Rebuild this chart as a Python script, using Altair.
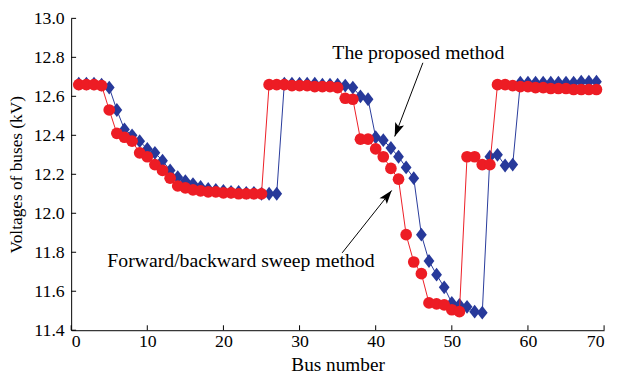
import math
import altair as alt
import pandas as pd

# ---------------- data ----------------
bus = list(range(1, 70))

fbs_kv = [12.66, 12.66, 12.66, 12.655, 12.53, 12.41, 12.39, 12.37, 12.31, 12.29,
          12.25, 12.22, 12.18, 12.14, 12.13, 12.12, 12.115, 12.11, 12.11, 12.105,
          12.105, 12.10, 12.10, 12.10, 12.10, 12.66, 12.66, 12.66, 12.655, 12.655,
          12.655, 12.65, 12.65, 12.65, 12.645, 12.59, 12.585, 12.38, 12.38, 12.33,
          12.29, 12.23, 12.175, 11.89, 11.75, 11.69, 11.54, 11.535, 11.53, 11.505,
          11.495, 12.29, 12.29, 12.25, 12.25, 12.66, 12.66, 12.655, 12.65, 12.65,
          12.645, 12.645, 12.64, 12.64, 12.64, 12.635, 12.635, 12.635, 12.635]

proposed_kv = [12.665, 12.665, 12.665, 12.66, 12.645, 12.53, 12.43, 12.40, 12.37, 12.33,
               12.31, 12.27, 12.22, 12.185, 12.165, 12.15, 12.135, 12.125, 12.12, 12.115,
               12.11, 12.11, 12.105, 12.105, 12.10, 12.10, 12.10, 12.665, 12.665, 12.665,
               12.665, 12.665, 12.66, 12.66, 12.66, 12.655, 12.645, 12.60, 12.585, 12.39,
               12.375, 12.335, 12.29, 12.235, 12.18, 11.89, 11.755, 11.685, 11.62, 11.54,
               11.53, 11.52, 11.495, 11.49, 12.29, 12.30, 12.245, 12.25, 12.67, 12.67,
               12.67, 12.67, 12.67, 12.67, 12.67, 12.67, 12.675, 12.675, 12.675]

x_ticks = [0, 10, 20, 30, 40, 50, 60, 70]
y_ticks = [11.4, 11.6, 11.8, 12.0, 12.2, 12.4, 12.6, 12.8, 13.0]

label_text = ["The proposed method", "Forward/backward sweep method"]
label_bus = [45.6, 22.3]
label_kv = [12.824, 11.756]

arrow_from_bus = [46.2, 35.6]
arrow_from_kv = [12.772, 11.797]
arrow_to_bus = [42.5, 42.1]
arrow_to_kv = [12.394, 12.117]

# ---------------- layout ----------------
W, H = 540, 316
X_DOM = [0, 70]
Y_DOM = [11.4, 13.0]
FONT = "Liberation Serif"
RED = "#ED1C24"
BLUE = "#27399A"

xs = alt.Scale(domain=X_DOM, nice=False, zero=False)
ys = alt.Scale(domain=Y_DOM, nice=False, zero=False)
x_axis = alt.Axis(values=x_ticks, title="Bus number", format="d")
y_axis = alt.Axis(values=y_ticks, title="Voltages of buses (kV)", format=".1f")


def X(field="bus"):
    return alt.X(f"{field}:Q", scale=xs, axis=x_axis)


def Y(field="kv"):
    return alt.Y(f"{field}:Q", scale=ys, axis=y_axis)


df_fbs = pd.DataFrame({"bus": bus, "kv": fbs_kv})
df_prop = pd.DataFrame({"bus": bus, "kv": proposed_kv})

# arrow direction (clockwise from "up"), derived from the pixel scale
angles = []
for i in range(2):
    dx = (arrow_to_bus[i] - arrow_from_bus[i]) * W / (X_DOM[1] - X_DOM[0])
    dy = -(arrow_to_kv[i] - arrow_from_kv[i]) * H / (Y_DOM[1] - Y_DOM[0])
    angles.append(math.degrees(math.atan2(dx, -dy)) % 360)

df_arrow = pd.DataFrame({
    "bus": arrow_from_bus, "kv": arrow_from_kv,
    "bus2": arrow_to_bus, "kv2": arrow_to_kv,
})
df_head = pd.DataFrame({"bus": arrow_to_bus, "kv": arrow_to_kv, "ang": angles})
df_label = pd.DataFrame({"bus": label_bus, "kv": label_kv, "txt": label_text})
df_xt = pd.DataFrame({"bus": x_ticks})
df_yt = pd.DataFrame({"kv": y_ticks})

prop_line = alt.Chart(df_prop).mark_line(color=BLUE, strokeWidth=1).encode(x=X(), y=Y())
prop_pts = alt.Chart(df_prop).mark_point(
    shape="M0,-1L0.78,0L0,1L-0.78,0Z", filled=True, color=BLUE, opacity=1,
    size=196, strokeWidth=0,
).encode(x=X(), y=Y())

fbs_line = alt.Chart(df_fbs).mark_line(color=RED, strokeWidth=1).encode(x=X(), y=Y())
fbs_pts = alt.Chart(df_fbs).mark_point(
    shape="circle", filled=True, color=RED, opacity=1, size=140, strokeWidth=0,
).encode(x=X(), y=Y())

xticks = alt.Chart(df_xt).mark_rule(color="black", strokeWidth=1).encode(
    x=X(), y=alt.value(H), y2=alt.value(H - 5)
)
yticks = alt.Chart(df_yt).mark_rule(color="black", strokeWidth=1).encode(
    y=Y(), x=alt.value(0), x2=alt.value(5)
)

arrow_lines = alt.Chart(df_arrow).mark_rule(color="black", strokeWidth=1).encode(
    x=X(), y=Y(), x2="bus2:Q", y2="kv2:Q",
)
arrow_heads = alt.Chart(df_head).mark_point(
    shape="M0,0L0.55,1.6L0,1.25L-0.55,1.6Z", filled=True, color="black",
    opacity=1, size=300, strokeWidth=0,
).encode(x=X(), y=Y(), angle=alt.Angle("ang:Q", scale=None))

labels = alt.Chart(df_label).mark_text(
    font=FONT, fontSize=20, align="center", baseline="middle", color="black"
).encode(x=X(), y=Y(), text="txt:N")

chart = alt.layer(
    prop_line, prop_pts, fbs_line, fbs_pts, xticks, yticks,
    arrow_lines, arrow_heads, labels,
).properties(
    width=W, height=H,
    autosize=alt.AutoSizeParams(type="none"),
    padding={"left": 64, "top": 8, "right": 6, "bottom": 52},
).configure_view(stroke=None).configure_axis(
    grid=False, ticks=False, domainColor="black", domainWidth=1,
    labelFont=FONT, labelFontSize=18, labelColor="black",
    titleFont=FONT, titleFontWeight="normal", titleColor="black",
).configure_axisX(
    labelPadding=2, titlePadding=6, titleFontSize=19.5
).configure_axisY(
    labelPadding=7, titlePadding=8, titleFontSize=17.5
)

chart.save("out.html", embed_options={"renderer": "svg", "actions": False})
